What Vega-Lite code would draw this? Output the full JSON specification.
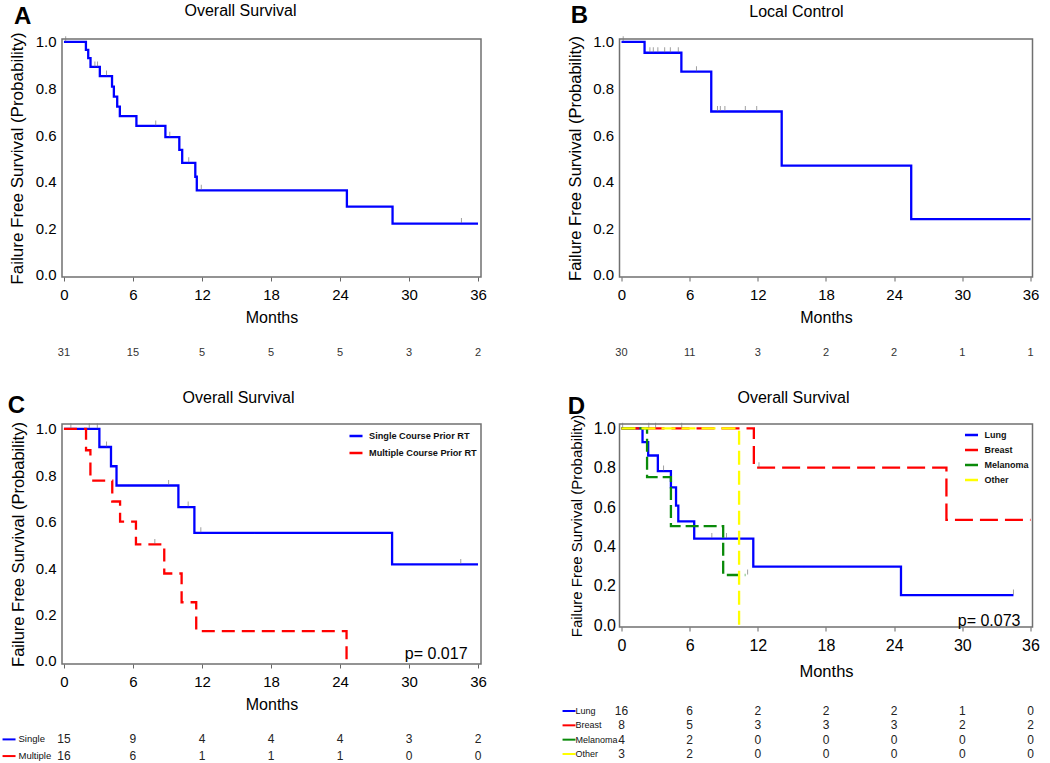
{
  "$schema": "https://vega.github.io/schema/vega-lite/v6.json",
  "background": "white",
  "padding": {"left": 1, "top": 2, "right": 5, "bottom": 0},
  "columns": 2,
  "bounds": "flush",
  "align": "each",
  "spacing": {"row": 45, "column": 138.5},
  "resolve": {
    "scale": {"x": "independent", "y": "independent", "color": "independent", "strokeDash": "independent"},
    "axis": {"x": "independent", "y": "independent"},
    "legend": {"color": "independent"}
  },
  "config": {
    "font": "Liberation Sans",
    "view": {"stroke": "#707070", "strokeWidth": 1.5},
    "axis": {"labelColor": "#000", "titleColor": "#000", "titleFontWeight": "normal", "grid": false, "domain": false, "labelFont": "Liberation Sans", "titleFont": "Liberation Sans"},
    "legend": {"labelFont": "Liberation Sans"}
  },
  "concat": [
    {
      "width": 419, "height": 238,
      "layer": [
        {
          "data": {"values": [
            {"t": 0, "s": 1}, {"t": 1.91, "s": 0.965}, {"t": 2.11, "s": 0.93}, {"t": 2.31, "s": 0.892},
            {"t": 3.12, "s": 0.853}, {"t": 4.18, "s": 0.808}, {"t": 4.34, "s": 0.765}, {"t": 4.63, "s": 0.722},
            {"t": 4.86, "s": 0.681}, {"t": 6.3, "s": 0.639}, {"t": 8.82, "s": 0.591}, {"t": 10.03, "s": 0.536},
            {"t": 10.28, "s": 0.481}, {"t": 11.42, "s": 0.421}, {"t": 11.55, "s": 0.363}, {"t": 24.6, "s": 0.293},
            {"t": 28.57, "s": 0.22}, {"t": 36, "s": 0.22}
          ]},
          "mark": {"type": "line", "interpolate": "step-after", "color": "#0000ff", "strokeWidth": 2.3},
          "encoding": {
            "x": {"field": "t", "type": "quantitative", "scale": {"domain": [-0.17, 36.26], "nice": false, "zero": false},
              "axis": {"title": "Months", "values": [0,1.5,3,4.5,6,7.5,9,10.5,12,13.5,15,16.5,18,19.5,21,22.5,24,25.5,27,28.5,30,31.5,33,34.5,36],
                "labelExpr": "datum.value % 6 === 0 ? datum.label : ''", "tickSize": 4, "tickColor": "#666", "labelFontSize": 15, "labelPadding": 6,
                "labelFlush": false, "labelOverlap": false, "titleFontSize": 16, "titlePadding": 7}},
            "y": {"field": "s", "type": "quantitative", "scale": {"domain": [-0.009, 1.012], "nice": false, "zero": false},
              "axis": {"title": "Failure Free Survival (Probability)", "values": [0, 0.2, 0.4, 0.6, 0.8, 1], "format": ".1f", "ticks": false,
                "labelFontSize": 15, "labelPadding": 6, "titleFontSize": 17, "titlePadding": 9}}
          }
        },
        {
          "data": {"values": [
            {"t": 0.15, "s": 1}, {"t": 2.69, "s": 0.892}, {"t": 2.92, "s": 0.892}, {"t": 3.7, "s": 0.853}, {"t": 7.98, "s": 0.639},
            {"t": 9.2, "s": 0.591}, {"t": 10.85, "s": 0.481}, {"t": 11.94, "s": 0.363}, {"t": 34.56, "s": 0.22}
          ]},
          "mark": {"type": "tick", "orient": "vertical", "color": "#777", "size": 5, "thickness": 1, "yOffset": -3},
          "encoding": {"x": {"field": "t", "type": "quantitative"}, "y": {"field": "s", "type": "quantitative"}}
        },
        {
          "data": {"values": [{}]},
          "mark": {"type": "text", "text": "Overall Survival", "fontSize": 16, "baseline": "alphabetic", "align": "center", "color": "#000"},
          "encoding": {"x": {"datum": 15.35}, "y": {"datum": 1.1107}}
        },
        {
          "data": {"values": [{}]},
          "mark": {"type": "text", "text": "A", "fontSize": 24, "fontWeight": "bold", "baseline": "alphabetic", "align": "center", "color": "#000"},
          "encoding": {"x": {"datum": -3.6}, "y": {"datum": 1.0764}}
        }
      ]
    },
    {
      "width": 413, "height": 238,
      "layer": [
        {
          "data": {"values": [
            {"t": 0, "s": 1}, {"t": 2.03, "s": 0.953}, {"t": 5.27, "s": 0.872}, {"t": 7.9, "s": 0.701},
            {"t": 14.1, "s": 0.469}, {"t": 25.5, "s": 0.239}, {"t": 36, "s": 0.239}
          ]},
          "mark": {"type": "line", "interpolate": "step-after", "color": "#0000ff", "strokeWidth": 2.3},
          "encoding": {
            "x": {"field": "t", "type": "quantitative", "scale": {"domain": [-0.176, 36.176], "nice": false, "zero": false},
              "axis": {"title": "Months", "values": [0,1.5,3,4.5,6,7.5,9,10.5,12,13.5,15,16.5,18,19.5,21,22.5,24,25.5,27,28.5,30,31.5,33,34.5,36],
                "labelExpr": "datum.value % 6 === 0 ? datum.label : ''", "tickSize": 4, "tickColor": "#666", "labelFontSize": 15, "labelPadding": 6,
                "labelFlush": false, "labelOverlap": false, "titleFontSize": 16, "titlePadding": 7}},
            "y": {"field": "s", "type": "quantitative", "scale": {"domain": [-0.009, 1.012], "nice": false, "zero": false},
              "axis": {"title": "Failure Free Survival (Probability)", "values": [0, 0.2, 0.4, 0.6, 0.8, 1], "format": ".1f", "ticks": false,
                "labelFontSize": 15, "labelPadding": 6, "titleFontSize": 16.5, "titlePadding": 9}}
          }
        },
        {
          "data": {"values": [
            {"t": 0.15, "s": 1}, {"t": 2.5, "s": 0.953}, {"t": 2.8, "s": 0.953}, {"t": 3.2, "s": 0.953}, {"t": 3.8, "s": 0.953},
            {"t": 4.3, "s": 0.953}, {"t": 5.0, "s": 0.953}, {"t": 6.6, "s": 0.872}, {"t": 8.45, "s": 0.701}, {"t": 8.7, "s": 0.701},
            {"t": 9.1, "s": 0.701}, {"t": 10.9, "s": 0.701}, {"t": 11.9, "s": 0.701}
          ]},
          "mark": {"type": "tick", "orient": "vertical", "color": "#777", "size": 5, "thickness": 1, "yOffset": -3},
          "encoding": {"x": {"field": "t", "type": "quantitative"}, "y": {"field": "s", "type": "quantitative"}}
        },
        {
          "data": {"values": [{}]},
          "mark": {"type": "text", "text": "Local Control", "fontSize": 16, "baseline": "alphabetic", "align": "center", "color": "#000"},
          "encoding": {"x": {"datum": 15.4}, "y": {"datum": 1.106}}
        },
        {
          "data": {"values": [{}]},
          "mark": {"type": "text", "text": "B", "fontSize": 24, "fontWeight": "bold", "baseline": "alphabetic", "align": "center", "color": "#000"},
          "encoding": {"x": {"datum": -3.7}, "y": {"datum": 1.0806}}
        }
      ]
    },
    {
      "width": 419, "height": 57, "view": {"stroke": null},
      "data": {"values": [
        {"t": 0, "n": 31}, {"t": 6, "n": 15}, {"t": 12, "n": 5}, {"t": 18, "n": 5}, {"t": 24, "n": 5}, {"t": 30, "n": 3}, {"t": 36, "n": 2}
      ]},
      "mark": {"type": "text", "fontSize": 11, "dy": 2.5, "color": "#333"},
      "encoding": {
        "x": {"field": "t", "type": "quantitative", "scale": {"domain": [-0.17, 36.26], "nice": false, "zero": false}, "axis": null},
        "text": {"field": "n", "type": "quantitative"}
      }
    },
    {
      "width": 413, "height": 57, "view": {"stroke": null},
      "data": {"values": [
        {"t": 0, "n": 30}, {"t": 6, "n": 11}, {"t": 12, "n": 3}, {"t": 18, "n": 2}, {"t": 24, "n": 2}, {"t": 30, "n": 1}, {"t": 36, "n": 1}
      ]},
      "mark": {"type": "text", "fontSize": 11, "dy": 2.5, "color": "#333"},
      "encoding": {
        "x": {"field": "t", "type": "quantitative", "scale": {"domain": [-0.176, 36.176], "nice": false, "zero": false}, "axis": null},
        "text": {"field": "n", "type": "quantitative"}
      }
    },
    {
      "width": 419, "height": 240,
      "layer": [
        {
          "data": {"values": [
            {"grp": "Single Course Prior RT", "t": 0, "s": 1}, {"grp": "Single Course Prior RT", "t": 3.08, "s": 0.922},
            {"grp": "Single Course Prior RT", "t": 4.09, "s": 0.839}, {"grp": "Single Course Prior RT", "t": 4.57, "s": 0.756},
            {"grp": "Single Course Prior RT", "t": 9.95, "s": 0.663}, {"grp": "Single Course Prior RT", "t": 11.34, "s": 0.552},
            {"grp": "Single Course Prior RT", "t": 28.53, "s": 0.416}, {"grp": "Single Course Prior RT", "t": 36, "s": 0.416},
            {"grp": "Multiple Course Prior RT", "t": 0, "s": 1}, {"grp": "Multiple Course Prior RT", "t": 1.92, "s": 0.908},
            {"grp": "Multiple Course Prior RT", "t": 2.3, "s": 0.777}, {"grp": "Multiple Course Prior RT", "t": 4.2, "s": 0.687},
            {"grp": "Multiple Course Prior RT", "t": 4.88, "s": 0.6}, {"grp": "Multiple Course Prior RT", "t": 6.26, "s": 0.502},
            {"grp": "Multiple Course Prior RT", "t": 8.72, "s": 0.377}, {"grp": "Multiple Course Prior RT", "t": 10.23, "s": 0.253},
            {"grp": "Multiple Course Prior RT", "t": 11.5, "s": 0.129}, {"grp": "Multiple Course Prior RT", "t": 24.57, "s": 0}
          ]},
          "mark": {"type": "line", "interpolate": "step-after", "strokeWidth": 2.3},
          "encoding": {
            "x": {"field": "t", "type": "quantitative", "scale": {"domain": [-0.17, 36.26], "nice": false, "zero": false},
              "axis": {"title": "Months", "values": [0,1.5,3,4.5,6,7.5,9,10.5,12,13.5,15,16.5,18,19.5,21,22.5,24,25.5,27,28.5,30,31.5,33,34.5,36],
                "labelExpr": "datum.value % 6 === 0 ? datum.label : ''", "tickSize": 4, "tickColor": "#666", "labelFontSize": 15, "labelPadding": 6,
                "labelFlush": false, "labelOverlap": false, "titleFontSize": 16, "titlePadding": 7}},
            "y": {"field": "s", "type": "quantitative", "scale": {"domain": [-0.013, 1.021], "nice": false, "zero": false},
              "axis": {"title": "Failure Free Survival (Probability)", "values": [0, 0.2, 0.4, 0.6, 0.8, 1], "format": ".1f", "ticks": false,
                "labelFontSize": 15, "labelPadding": 6, "titleFontSize": 16.5, "titlePadding": 9}},
            "color": {"field": "grp", "type": "nominal",
              "scale": {"domain": ["Single Course Prior RT", "Multiple Course Prior RT"], "range": ["#0000ff", "#ff0000"]},
              "legend": {"orient": "top-right", "offset": 4, "title": null, "symbolType": "stroke", "symbolStrokeWidth": 2.5, "symbolSize": 170,
                "labelFontSize": 9.2, "labelFontWeight": "bold", "labelColor": "#111", "rowPadding": 3, "labelOffset": 5, "padding": 0}},
            "strokeDash": {"field": "grp", "type": "nominal",
              "scale": {"domain": ["Single Course Prior RT", "Multiple Course Prior RT"], "range": [[1, 0], [13, 7]]}, "legend": null}
          }
        },
        {
          "data": {"values": [
            {"t": 0.6, "s": 1}, {"t": 2.2, "s": 1}, {"t": 2.9, "s": 1}, {"t": 3.7, "s": 0.922}, {"t": 9.1, "s": 0.756},
            {"t": 10.8, "s": 0.663}, {"t": 11.9, "s": 0.552}, {"t": 34.5, "s": 0.416}, {"t": 7.9, "s": 0.502}
          ]},
          "mark": {"type": "tick", "orient": "vertical", "color": "#777", "size": 5, "thickness": 1, "yOffset": -3},
          "encoding": {"x": {"field": "t", "type": "quantitative"}, "y": {"field": "s", "type": "quantitative"}}
        },
        {
          "data": {"values": [{}]},
          "mark": {"type": "text", "text": "Overall Survival", "fontSize": 16, "baseline": "alphabetic", "align": "center", "color": "#000"},
          "encoding": {"x": {"datum": 15.18}, "y": {"datum": 1.1115}}
        },
        {
          "data": {"values": [{}]},
          "mark": {"type": "text", "text": "C", "fontSize": 24, "fontWeight": "bold", "baseline": "alphabetic", "align": "center", "color": "#000"},
          "encoding": {"x": {"datum": -4.13}, "y": {"datum": 1.0684}}
        },
        {
          "data": {"values": [{}]},
          "mark": {"type": "text", "text": "p= 0.017", "fontSize": 16, "baseline": "alphabetic", "align": "right", "color": "#000"},
          "encoding": {"x": {"datum": 35.09}, "y": {"datum": 0.0086}}
        }
      ]
    },
    {
      "width": 413, "height": 203,
      "layer": [
        {
          "data": {"values": [
            {"grp": "Lung", "t": 0, "s": 1}, {"grp": "Lung", "t": 1.85, "s": 0.93}, {"grp": "Lung", "t": 2.35, "s": 0.862},
            {"grp": "Lung", "t": 3.2, "s": 0.783}, {"grp": "Lung", "t": 4.35, "s": 0.7}, {"grp": "Lung", "t": 4.8, "s": 0.607},
            {"grp": "Lung", "t": 5.0, "s": 0.527}, {"grp": "Lung", "t": 6.4, "s": 0.44}, {"grp": "Lung", "t": 11.6, "s": 0.298},
            {"grp": "Lung", "t": 24.6, "s": 0.153}, {"grp": "Lung", "t": 34.5, "s": 0.153},
            {"grp": "Breast", "t": 0, "s": 1}, {"grp": "Breast", "t": 11.65, "s": 0.8}, {"grp": "Breast", "t": 28.6, "s": 0.535}, {"grp": "Breast", "t": 36, "s": 0.535},
            {"grp": "Melanoma", "t": 0, "s": 1}, {"grp": "Melanoma", "t": 2.25, "s": 0.752}, {"grp": "Melanoma", "t": 4.35, "s": 0.503},
            {"grp": "Melanoma", "t": 8.95, "s": 0.255}, {"grp": "Melanoma", "t": 10.9, "s": 0.255},
            {"grp": "Other", "t": 0, "s": 1}, {"grp": "Other", "t": 10.35, "s": 0}
          ]},
          "mark": {"type": "line", "interpolate": "step-after", "strokeWidth": 2.3},
          "encoding": {
            "x": {"field": "t", "type": "quantitative", "scale": {"domain": [-0.176, 36.176], "nice": false, "zero": false},
              "axis": {"title": "Months", "values": [0,1.5,3,4.5,6,7.5,9,10.5,12,13.5,15,16.5,18,19.5,21,22.5,24,25.5,27,28.5,30,31.5,33,34.5,36],
                "labelExpr": "datum.value % 6 === 0 ? datum.label : ''", "tickSize": 4, "tickColor": "#666", "labelFontSize": 16, "labelPadding": 6,
                "labelFlush": false, "labelOverlap": false, "titleFontSize": 16.5, "titlePadding": 10}},
            "y": {"field": "s", "type": "quantitative", "scale": {"domain": [-0.009, 1.022], "nice": false, "zero": false},
              "axis": {"title": "Failure Free Survival (Probability)", "values": [0, 0.2, 0.4, 0.6, 0.8, 1], "format": ".1f", "ticks": false,
                "labelFontSize": 16, "labelPadding": 4, "titleFontSize": 15, "titlePadding": 9}},
            "color": {"field": "grp", "type": "nominal",
              "scale": {"domain": ["Lung", "Breast", "Melanoma", "Other"], "range": ["#0000ff", "#ff0000", "#0a8a0a", "#ffff00"]},
              "legend": {"orient": "top-right", "offset": 3, "title": null, "symbolType": "stroke", "symbolStrokeWidth": 2.5, "symbolSize": 170,
                "labelFontSize": 9, "labelFontWeight": "bold", "labelColor": "#111", "rowPadding": 2, "labelOffset": 5, "padding": 0}},
            "strokeDash": {"field": "grp", "type": "nominal",
              "scale": {"domain": ["Lung", "Breast", "Melanoma", "Other"], "range": [[1, 0], [18, 7], [13, 5], [14, 6]]}, "legend": null}
          }
        },
        {
          "data": {"values": [
            {"t": 0.1, "s": 1}, {"t": 2.4, "s": 1}, {"t": 3.0, "s": 1}, {"t": 5.3, "s": 1}, {"t": 3.7, "s": 0.783},
            {"t": 7.95, "s": 0.44}, {"t": 9.24, "s": 0.44}, {"t": 11.1, "s": 0.255}, {"t": 12.1, "s": 0.8}, {"t": 34.5, "s": 0.153}
          ]},
          "mark": {"type": "tick", "orient": "vertical", "color": "#777", "size": 5, "thickness": 1, "yOffset": -3},
          "encoding": {"x": {"field": "t", "type": "quantitative"}, "y": {"field": "s", "type": "quantitative"}}
        },
        {
          "data": {"values": [{}]},
          "mark": {"type": "text", "text": "Overall Survival", "fontSize": 16, "baseline": "alphabetic", "align": "center", "color": "#000"},
          "encoding": {"x": {"datum": 15.14}, "y": {"datum": 1.1287}}
        },
        {
          "data": {"values": [{}]},
          "mark": {"type": "text", "text": "D", "fontSize": 24, "fontWeight": "bold", "baseline": "alphabetic", "align": "center", "color": "#000"},
          "encoding": {"x": {"datum": -3.96}, "y": {"datum": 1.0728}}
        },
        {
          "data": {"values": [{}]},
          "mark": {"type": "text", "text": "p= 0.073", "fontSize": 16, "baseline": "alphabetic", "align": "right", "color": "#000"},
          "encoding": {"x": {"datum": 35.12}, "y": {"datum": -0.0014}}
        }
      ]
    },
    {
      "width": 419, "height": 50, "view": {"stroke": null},
      "data": {"values": [
        {"grp": "Single", "t": 0, "n": 15}, {"grp": "Single", "t": 6, "n": 9}, {"grp": "Single", "t": 12, "n": 4}, {"grp": "Single", "t": 18, "n": 4},
        {"grp": "Single", "t": 24, "n": 4}, {"grp": "Single", "t": 30, "n": 3}, {"grp": "Single", "t": 36, "n": 2},
        {"grp": "Multiple", "t": 0, "n": 16}, {"grp": "Multiple", "t": 6, "n": 6}, {"grp": "Multiple", "t": 12, "n": 1}, {"grp": "Multiple", "t": 18, "n": 1},
        {"grp": "Multiple", "t": 24, "n": 1}, {"grp": "Multiple", "t": 30, "n": 0}, {"grp": "Multiple", "t": 36, "n": 0}
      ]},
      "encoding": {
        "y": {"field": "grp", "type": "nominal", "scale": {"type": "point", "domain": ["Single", "Multiple"], "padding": 1.0625, "align": 0.912}, "axis": null}
      },
      "layer": [
        {
          "transform": [{"filter": "datum.t === 0"}],
          "mark": {"type": "rule", "strokeWidth": 2},
          "encoding": {
            "x": {"datum": -5.34, "scale": {"domain": [-0.17, 36.26], "nice": false, "zero": false}, "axis": null},
            "x2": {"datum": -4.21},
            "color": {"field": "grp", "type": "nominal", "scale": {"domain": ["Single", "Multiple"], "range": ["#0000ff", "#ff0000"]}, "legend": null}
          }
        },
        {
          "transform": [{"filter": "datum.t === 0"}],
          "mark": {"type": "text", "align": "left", "fontSize": 9.5, "color": "#111"},
          "encoding": {"x": {"datum": -3.95, "axis": null}, "text": {"field": "grp", "type": "nominal"}}
        },
        {
          "mark": {"type": "text", "fontSize": 12, "color": "#222"},
          "encoding": {"x": {"field": "t", "type": "quantitative", "axis": null}, "text": {"field": "n", "type": "quantitative"}}
        }
      ]
    },
    {
      "width": 413, "height": 50, "view": {"stroke": null},
      "data": {"values": [
        {"grp": "Lung", "t": 0, "n": 16}, {"grp": "Lung", "t": 6, "n": 6}, {"grp": "Lung", "t": 12, "n": 2}, {"grp": "Lung", "t": 18, "n": 2},
        {"grp": "Lung", "t": 24, "n": 2}, {"grp": "Lung", "t": 30, "n": 1}, {"grp": "Lung", "t": 36, "n": 0},
        {"grp": "Breast", "t": 0, "n": 8}, {"grp": "Breast", "t": 6, "n": 5}, {"grp": "Breast", "t": 12, "n": 3}, {"grp": "Breast", "t": 18, "n": 3},
        {"grp": "Breast", "t": 24, "n": 3}, {"grp": "Breast", "t": 30, "n": 2}, {"grp": "Breast", "t": 36, "n": 2},
        {"grp": "Melanoma", "t": 0, "n": 4}, {"grp": "Melanoma", "t": 6, "n": 2}, {"grp": "Melanoma", "t": 12, "n": 0}, {"grp": "Melanoma", "t": 18, "n": 0},
        {"grp": "Melanoma", "t": 24, "n": 0}, {"grp": "Melanoma", "t": 30, "n": 0}, {"grp": "Melanoma", "t": 36, "n": 0},
        {"grp": "Other", "t": 0, "n": 3}, {"grp": "Other", "t": 6, "n": 2}, {"grp": "Other", "t": 12, "n": 0}, {"grp": "Other", "t": 18, "n": 0},
        {"grp": "Other", "t": 24, "n": 0}, {"grp": "Other", "t": 30, "n": 0}, {"grp": "Other", "t": 36, "n": 0}
      ]},
      "encoding": {
        "y": {"field": "grp", "type": "nominal", "scale": {"type": "point", "domain": ["Lung", "Breast", "Melanoma", "Other"], "padding": 0.2445, "align": 0.286}, "axis": null}
      },
      "layer": [
        {
          "transform": [{"filter": "datum.t === 0"}],
          "mark": {"type": "rule", "strokeWidth": 2},
          "encoding": {
            "x": {"datum": -5.19, "scale": {"domain": [-0.176, 36.176], "nice": false, "zero": false}, "axis": null},
            "x2": {"datum": -4.05},
            "color": {"field": "grp", "type": "nominal", "scale": {"domain": ["Lung", "Breast", "Melanoma", "Other"], "range": ["#0000ff", "#ff0000", "#0a8a0a", "#ffff00"]}, "legend": null}
          }
        },
        {
          "transform": [{"filter": "datum.t === 0"}],
          "mark": {"type": "text", "align": "left", "fontSize": 9, "color": "#111"},
          "encoding": {"x": {"datum": -4.05, "axis": null}, "text": {"field": "grp", "type": "nominal"}}
        },
        {
          "mark": {"type": "text", "fontSize": 12, "color": "#222"},
          "encoding": {"x": {"field": "t", "type": "quantitative", "axis": null}, "text": {"field": "n", "type": "quantitative"}}
        }
      ]
    }
  ]
}
